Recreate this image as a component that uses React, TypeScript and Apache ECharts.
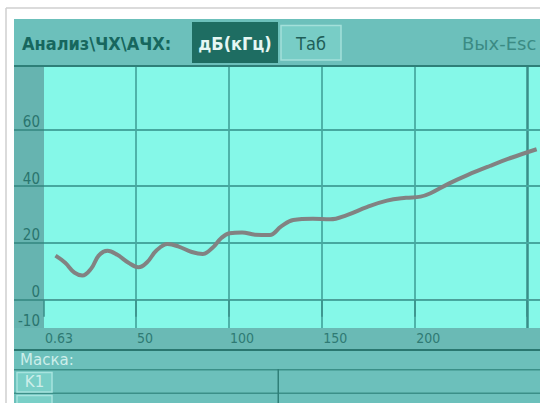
import React, { useEffect, useRef } from "react";
import * as echarts from "echarts";

// ---- data ----
const freqKHz = [6.8, 12, 17, 21.2, 26, 30, 34.7, 40, 46, 51.4, 56, 61, 67, 73, 80, 85.9, 91, 96, 100.3, 107, 114, 121.9, 128, 134.5, 145, 154.3, 163.3, 174, 184.8, 195, 202.8, 208.2, 218, 228, 240, 252, 265.2];
const gainDb = [15.5, 13, 9.5, 8.5, 11, 15.5, 17.2, 15.8, 13, 11.4, 13.2, 17.3, 19.6, 18.7, 16.8, 16.1, 18.2, 21.8, 23.4, 23.7, 22.9, 22.8, 25.8, 28.1, 28.5, 28.3, 29.8, 32.6, 34.9, 35.9, 36.3, 37.5, 40.9, 43.9, 47.1, 50.1, 53.0];
const xLabelValues = [0.63, 50, 100, 150, 200];
const xGridValues = [50, 100, 150, 200, 260];
const xTickValues = [0.63, 50, 100, 150, 200, 260];
const yLabelValues = [-10, 0, 20, 40, 60];
const yGridValues = [0, 20, 40, 60];

const FONT = "'DejaVu Sans Condensed', 'DejaVu Sans', sans-serif";
const FONT_WIDE = "'DejaVu Sans', sans-serif";

export default function App() {
  const ref = useRef<HTMLDivElement>(null);
  useEffect(() => {
    if (!ref.current) return;
    const chart = echarts.init(ref.current, undefined, { renderer: "svg" });
    const vLine = { color: "#3c9c94", width: 1.5, type: "solid" };
    const hLine = { color: "#46a89f", width: 2, type: "solid" };
    const gridLines = [
      ...xGridValues.map((v, i) => ({
        xAxis: v,
        lineStyle: i === xGridValues.length - 1 ? { color: "#3a8e88", width: 2.5, type: "solid" } : vLine,
      })),
      ...yGridValues.map((v) => ({ yAxis: v, lineStyle: hLine })),
    ];
    const rect = (x: number, y: number, w: number, h: number, fill: string, z = -10, stroke?: string) => ({
      type: "rect",
      shape: { x, y, width: w, height: h },
      style: stroke ? { fill, stroke, lineWidth: 1.5 } : { fill },
      z,
      silent: true,
    });
    const text = (x: number, y: number, t: string, fill: string, size: number, weight = "normal", align = "left", family = FONT) => ({
      type: "text",
      x,
      y,
      style: { text: t, fill, font: `${weight} ${size}px ${family}`, textAlign: align, textVerticalAlign: "middle" },
      z: 20,
      silent: true,
    });
    chart.setOption({
      animation: false,
      grid: {
        left: 44,
        right: 0,
        top: 67,
        bottom: 75,
        show: true,
        backgroundColor: "#85f8e8",
        borderWidth: 0,
      },
      xAxis: {
        type: "value",
        min: 0.63,
        max: 267,
        z: 5,
        axisLine: { show: true, lineStyle: { color: "#4d9f99", width: 1 } },
        axisTick: {
          show: true,
          customValues: xTickValues,
          length: 17,
          lineStyle: { color: "#3a8e88", width: 1.5 },
        },
        axisLabel: {
          customValues: xLabelValues,
          formatter: (v: number) => (v === 0.63 ? "0.63" : String(v)),
          align: "left",
          margin: 3,
          padding: [0, 0, 0, 1],
          color: "#2f7a74",
          fontFamily: FONT,
          fontSize: 14,
          hideOverlap: false,
        },
        splitLine: { show: false },
      },
      yAxis: {
        type: "value",
        min: -10,
        max: 82,
        z: 5,
        axisLine: { show: false },
        axisTick: {
          show: true,
          customValues: yGridValues,
          length: 30,
          lineStyle: { color: "#3f918b", width: 2 },
        },
        axisLabel: {
          customValues: yLabelValues,
          verticalAlign: "bottom",
          margin: 4,
          color: "#2a746e",
          fontFamily: FONT,
          fontSize: 15,
        },
        splitLine: { show: false },
      },
      series: [
        {
          type: "line",
          z: 2,
          data: [[0.63, -10]],
          showSymbol: false,
          lineStyle: { opacity: 0 },
          silent: true,
          markLine: {
            silent: true,
            symbol: ["none", "none"],
            label: { show: false },
            animation: false,
            data: gridLines,
          },
        },
        {
          type: "line",
          z: 6,
          data: freqKHz.map((f, i) => [f, gainDb[i]]),
          smooth: 0.4,
          showSymbol: false,
          lineStyle: { color: "#828282", width: 4 },
          silent: true,
        },
      ],
      graphic: [
        { type: "line", shape: { x1: 6, y1: 8, x2: 540, y2: 8 }, style: { stroke: "#cfcfcf", lineWidth: 1.5 }, z: -11, silent: true },
        { type: "line", shape: { x1: 6, y1: 8, x2: 6, y2: 403 }, style: { stroke: "#cfcfcf", lineWidth: 1.5 }, z: -11, silent: true },
        rect(14, 19, 526, 384, "#6cc0bb"),
        rect(14, 65, 526, 2, "#2e7f78"),
        rect(14, 67, 30, 261, "#66b4b0"),
        rect(14, 328, 526, 21, "#6abab5"),
        rect(14, 349, 526, 2, "#2a7770"),
        rect(14, 369, 526, 1.5, "#3b8f88"),
        rect(14, 392.5, 526, 1.5, "#3b8f88"),
        rect(277.5, 369, 1.5, 34, "#2f7f78"),
        rect(17, 372.5, 35, 19.5, "#79cfc7", -9, "#a6e4de"),
        rect(17, 395.5, 35, 12, "#79cfc7", -9, "#a6e4de"),
        rect(192, 22, 86, 41, "#1e6d62", -9),
        rect(281, 25.5, 60, 34.5, "#78cdc6", -9, "#a3e0da"),
        text(22, 43, "Анализ\\ЧХ\\АЧХ:", "#17675e", 18, "bold"),
        text(235, 43, "дБ(кГц)", "#e6f7f3", 18, "bold", "center"),
        text(311, 43, "Таб", "#1f5f59", 18, "normal", "center"),
        text(462, 43, "Вых-Esc", "#3b8b84", 18, "normal", "left", FONT_WIDE),
        text(20, 360, "Маска:", "#cdeeea", 15, "normal", "left", FONT_WIDE),
        text(34.5, 382, "K1", "#cdeeea", 15, "normal", "center", FONT_WIDE),
      ],
    });
    return () => chart.dispose();
  }, []);
  return (
    <div style={{ position: "fixed", left: 0, top: 0, width: 540, height: 403, background: "#ffffff" }}>
      <div ref={ref} style={{ width: 540, height: 403 }} />
    </div>
  );
}
